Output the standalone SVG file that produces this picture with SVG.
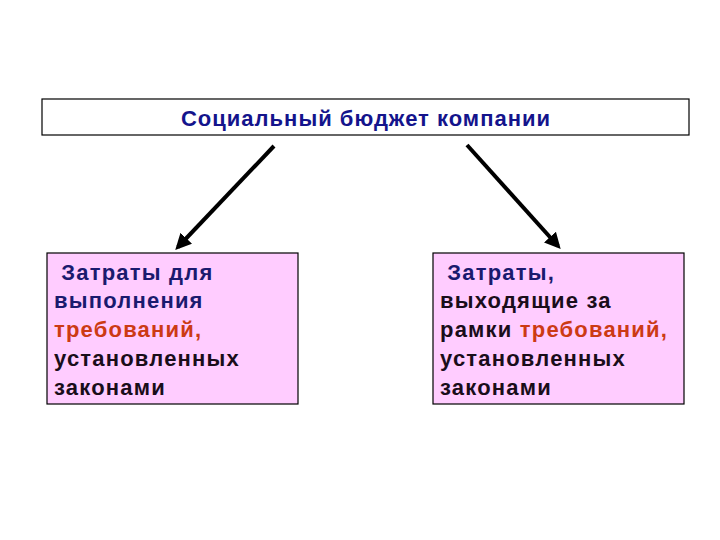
<svg xmlns="http://www.w3.org/2000/svg" width="720" height="540" viewBox="0 0 720 540">
<style>
.box{stroke:#000;stroke-width:1.2}
.t{font-family:"Liberation Sans",Arial,sans-serif;font-weight:bold}
.title{font-size:22px;fill:#14148c;letter-spacing:1px}
.b{font-size:22px;letter-spacing:1.2px}
.navy{fill:#1a1a6e}
.blk{fill:#1a0d1a}
.red{fill:#cc3a14}
.conn{stroke:#000;stroke-width:4;fill:none}
</style>
<defs>
<marker id="ah" markerWidth="4" markerHeight="4" refX="3" refY="2" orient="auto" markerUnits="strokeWidth">
<path d="M0,0 L4,2 L0,4 z" fill="#000"/>
</marker>
</defs>
<rect width="720" height="540" fill="#fff"/>
<g id="top">
<rect class="box" x="42" y="99" width="647" height="36" fill="#fff"/>
<text class="t title" x="366" y="126" text-anchor="middle">Социальный бюджет компании</text>
</g>
<g id="connectors">
<line class="conn" x1="274" y1="146" x2="178" y2="247" marker-end="url(#ah)"/>
<line class="conn" x1="467" y1="145" x2="558" y2="246" marker-end="url(#ah)"/>
</g>
<g id="left">
<rect class="box" x="47" y="253" width="251" height="151" fill="#ffccff"/>
<text class="t b" xml:space="preserve"><tspan class="navy" x="54" y="280"> Затраты для</tspan><tspan class="navy" x="54" y="308">выполнения</tspan><tspan class="red" x="54" y="337">требований,</tspan><tspan class="blk" x="54" y="366">установленных</tspan><tspan class="blk" x="54" y="395">законами</tspan></text>
</g>
<g id="right">
<rect class="box" x="433" y="253" width="251" height="151" fill="#ffccff"/>
<text class="t b" xml:space="preserve"><tspan class="navy" x="440" y="280"> Затраты,</tspan><tspan class="blk" x="440" y="308">выходящие за</tspan><tspan class="blk" x="440" y="337">рамки <tspan class="red">требований,</tspan></tspan><tspan class="blk" x="440" y="366">установленных</tspan><tspan class="blk" x="440" y="395">законами</tspan></text>
</g>
</svg>
